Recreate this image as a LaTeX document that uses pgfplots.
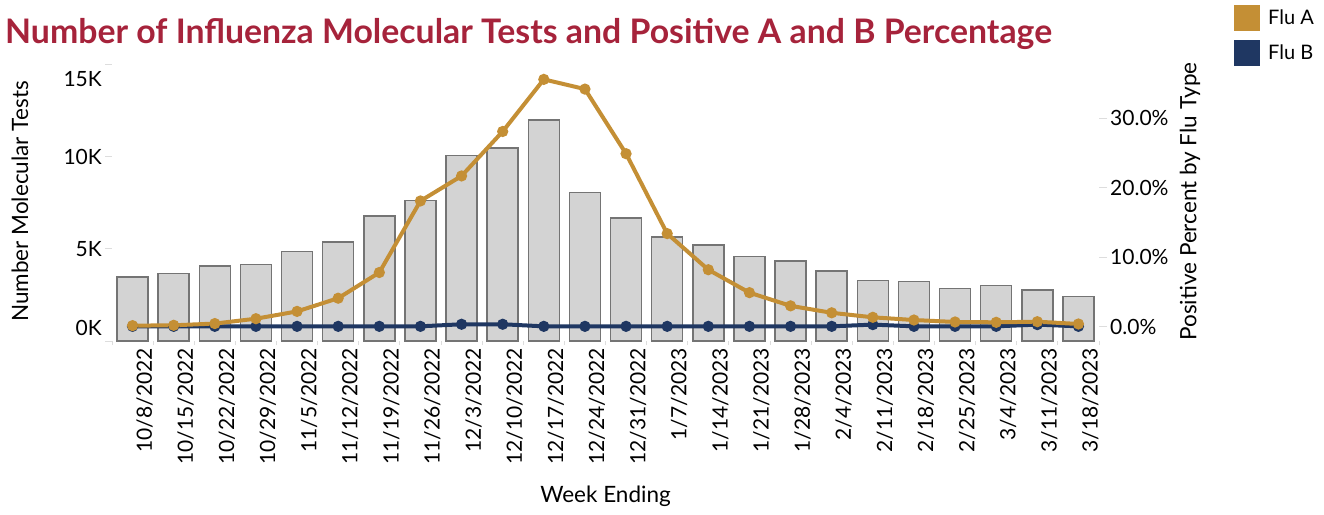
\documentclass[border=0pt]{standalone}
\usepackage{fontspec}
\setmainfont{Lato}
\usepackage{pgfplots}
\usepackage{pgfplotstable}
\pgfplotsset{compat=1.18}
\definecolor{fluA}{HTML}{C48F35}
\definecolor{fluB}{HTML}{1F3762}
\definecolor{titlered}{HTML}{A6233B}
\definecolor{barfill}{HTML}{D3D3D3}
\definecolor{baredge}{HTML}{747474}
\definecolor{tickgray}{HTML}{DDDDDD}
\newcommand\tickfont{\fontsize{21}{25}\selectfont}
\newcommand\labelfont{\fontsize{22.5}{27}\selectfont}

% week index, molecular tests, % positive Flu A, % positive Flu B
\pgfplotstableread{
idx tests fluA fluB
0  3470 0.15 0.05
1  3650 0.2  0.05
2  4070 0.45 0.05
3  4160 1.15 0.05
4  4850 2.2  0.05
5  5380 4.1  0.05
6  6770 7.8  0.05
7  7630 18.1 0.05
8  10050 21.7 0.35
9  10480 28.1 0.35
10 11980 35.6 0.05
11 8060 34.2 0.05
12 6670 24.9 0.05
13 5640 13.4 0.05
14 5210 8.2  0.05
15 4580 4.9  0.05
16 4340 3.0  0.05
17 3810 2.0  0.05
18 3290 1.35 0.3
19 3220 0.96 0.05
20 2860 0.68 0.05
21 3020 0.63 0.05
22 2770 0.72 0.3
23 2420 0.39 0.05
}\flutable

\begin{document}
\begin{tikzpicture}
\path[use as bounding box] (0pt,0pt) rectangle (1324pt,-514pt);
\node[anchor=base west, inner sep=0pt, text=titlered,
  font=\fontsize{33.8}{40}\selectfont\bfseries] at (5pt,-43pt)
  {Number of Influenza Molecular Tests and Positive A and B Percentage};

\begin{axis}[
  at={(112pt,-341pt)}, anchor=south west,
  scale only axis, width=987pt, height=279pt,
  xmin=-0.5, xmax=23.5, ymin=0, ymax=15130,
  scaled y ticks=false,
  axis x line*=bottom, axis y line*=left,
  axis line style={draw=none},
  tick align=outside,
  tick style={tickgray, line width=1pt},
  major tick length=7pt, minor tick length=4pt,
  xtick={0,...,23},
  major x tick style={draw=none},
  minor xtick={-0.5,0.5,...,23.5},
  xticklabels={10/8/2022,10/15/2022,10/22/2022,10/29/2022,11/5/2022,11/12/2022,11/19/2022,11/26/2022,12/3/2022,12/10/2022,12/17/2022,12/24/2022,12/31/2022,1/7/2023,1/14/2023,1/21/2023,1/28/2023,2/4/2023,2/11/2023,2/18/2023,2/25/2023,3/4/2023,3/11/2023,3/18/2023},
  xticklabel style={rotate=90, anchor=east, font=\tickfont, inner sep=0pt, yshift=-12pt},
  ytick={0,5000,10000,15000}, yticklabels={,,,},
  extra y ticks={732,5000,10000,14181},
  extra y tick labels={0K,5K,10K,15K},
  extra y tick style={major tick length=0pt,
    yticklabel style={font=\tickfont, inner sep=0pt, xshift=-10pt}},
  xlabel={Week Ending},
  xlabel style={at={(axis description cs:0.5,-0.5556)}, anchor=center, font=\labelfont},
  ylabel={Number Molecular Tests},
  ylabel style={at={(axis description cs:-0.0932,0.5)}, anchor=center, font=\labelfont},
]
\addplot[ybar, bar width=31pt, fill=barfill, draw=baredge, line width=1.5pt]
  table[x=idx, y=tests]{\flutable};
\end{axis}

\begin{axis}[
  at={(112pt,-341pt)}, anchor=south west,
  scale only axis, width=987pt, height=279pt,
  xmin=-0.5, xmax=23.5, ymin=-2.06, ymax=38.1,
  axis x line=none, axis y line*=right,
  axis line style={draw=none},
  clip=false,
  tick align=outside,
  tick style={tickgray, line width=1pt},
  major tick length=8pt,
  ytick={0,10,20,30},
  yticklabels={0.0\%,10.0\%,20.0\%,30.0\%},
  yticklabel style={font=\tickfont, inner sep=0pt, xshift=3pt},
  ylabel={Positive Percent by Flu Type},
  ylabel style={at={(axis description cs:1.0922,0.5)}, anchor=center, font=\labelfont},
  reverse legend,
  legend style={at={(axis description cs:1.1368,1.2043)}, anchor=north west,
    draw=none, fill=none, font=\fontsize{20}{24}\selectfont,
    inner sep=0pt, row sep=9pt,
    nodes={inner sep=0pt, anchor=west}},
  legend cell align=left,
]
\addplot[fluB, line width=4pt, mark=*, mark size=3.5pt, mark options={solid},
  legend image code/.code={\fill[fluB] (0pt,-11pt) rectangle (22pt,11pt); \path (30pt,0pt);}]
  table[x=idx, y=fluB]{\flutable};
\addlegendentry{Flu B}
\addplot[fluA, line width=4pt, mark=*, mark size=3.5pt, mark options={solid},
  legend image code/.code={\fill[fluA] (0pt,-11pt) rectangle (22pt,11pt); \path (30pt,0pt);}]
  table[x=idx, y=fluA]{\flutable};
\addlegendentry{Flu A}
\end{axis}
\end{tikzpicture}
\end{document}
